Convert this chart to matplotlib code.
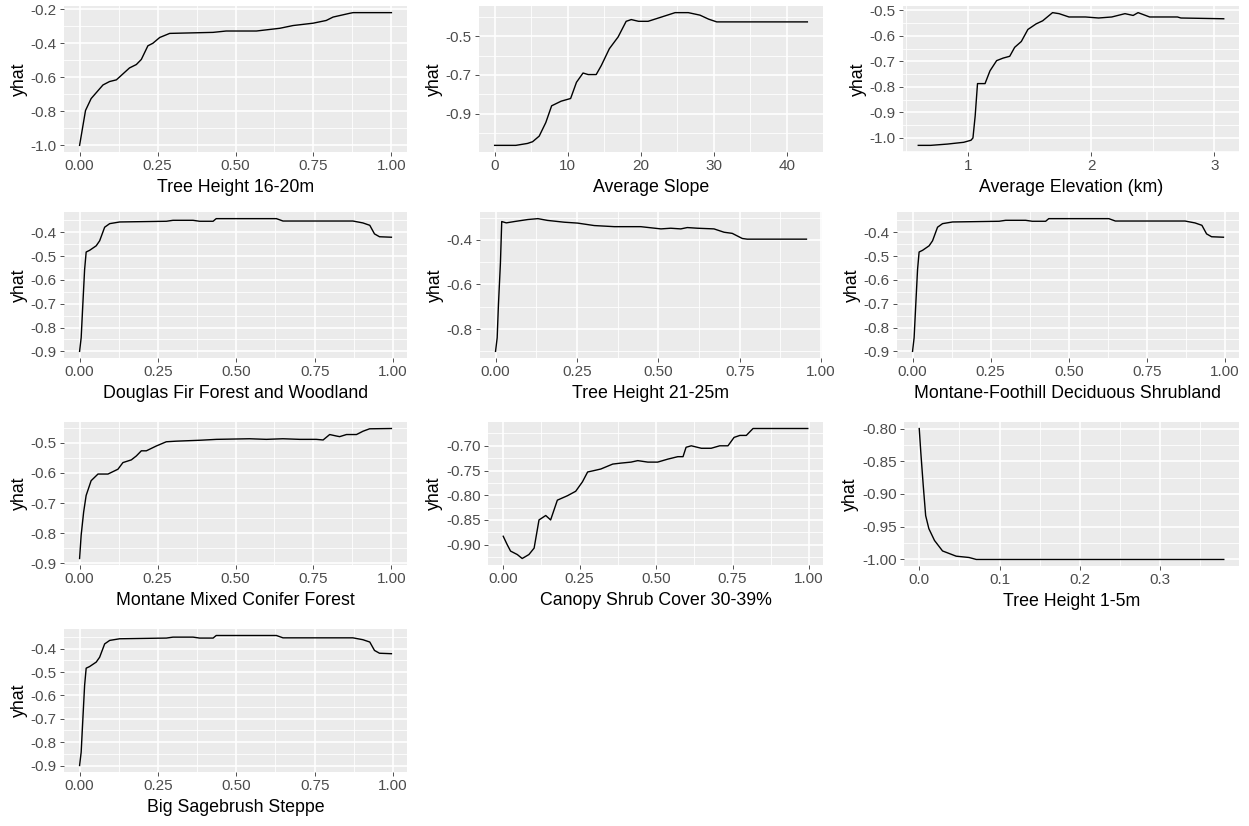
import numpy as np
import matplotlib.pyplot as plt

plt.rcParams["font.family"] = ["Liberation Sans", "DejaVu Sans"]
plt.rcParams["axes.unicode_minus"] = False

# Partial dependence curves (x value, yhat)
th16_x = [0, 0.019, 0.037, 0.075, 0.096, 0.118, 0.16, 0.182, 0.198, 0.219, 0.235,
          0.257, 0.289, 0.428, 0.47, 0.567, 0.642, 0.684, 0.749, 0.791, 0.813,
          0.866, 0.877, 1.0]
th16_y = [-1.0, -0.795, -0.725, -0.645, -0.625, -0.615, -0.545, -0.525, -0.495,
          -0.415, -0.40, -0.366, -0.342, -0.336, -0.328, -0.328, -0.312, -0.296,
          -0.282, -0.266, -0.246, -0.224, -0.22, -0.22]

slope_x = [0, 2.9, 4.5, 5.2, 6.1, 7.0, 7.8, 9.1, 10.4, 11.2, 12.1, 12.8, 13.9,
           14.6, 15.7, 16.9, 18.0, 18.7, 19.7, 21.0, 22.9, 24.7, 26.5, 28.1,
           29.3, 30.4, 42.8]
slope_y = [-1.065, -1.065, -1.055, -1.046, -1.017, -0.947, -0.86, -0.836,
           -0.822, -0.738, -0.69, -0.698, -0.698, -0.651, -0.564, -0.503,
           -0.422, -0.413, -0.422, -0.422, -0.399, -0.377, -0.377, -0.39,
           -0.411, -0.425, -0.425]

elev_x = [0.60, 0.70, 0.835, 0.968, 1.027, 1.043, 1.061, 1.08, 1.141, 1.181,
          1.235, 1.288, 1.341, 1.381, 1.435, 1.488, 1.555, 1.608, 1.688, 1.741,
          1.821, 1.955, 2.061, 2.168, 2.275, 2.341, 2.381, 2.475, 2.595, 2.70,
          2.728, 3.075]
elev_y = [-1.029, -1.029, -1.024, -1.017, -1.009, -1.0, -0.914, -0.787, -0.787,
          -0.737, -0.697, -0.687, -0.68, -0.645, -0.622, -0.575, -0.553, -0.541,
          -0.509, -0.513, -0.526, -0.526, -0.53, -0.526, -0.513, -0.52, -0.509,
          -0.526, -0.526, -0.526, -0.53, -0.533]

# Douglas fir, montane-foothill shrubland and sagebrush steppe share one shape
habitat_x = [0, 0.005, 0.011, 0.016, 0.021, 0.032, 0.053, 0.064, 0.08, 0.096,
             0.128, 0.277, 0.298, 0.362, 0.383, 0.426, 0.436, 0.628, 0.649,
             0.872, 0.904, 0.926, 0.941, 0.957, 0.995]
habitat_y = [-0.9, -0.843, -0.686, -0.557, -0.483, -0.476, -0.457, -0.436,
             -0.379, -0.364, -0.357, -0.354, -0.35, -0.35, -0.354, -0.354,
             -0.343, -0.343, -0.353, -0.353, -0.361, -0.371, -0.407, -0.419,
             -0.421]

th21_x = [0, 0.005, 0.009, 0.015, 0.019, 0.033, 0.058, 0.099, 0.13, 0.16, 0.211,
          0.252, 0.303, 0.365, 0.446, 0.508, 0.538, 0.569, 0.589, 0.62, 0.671,
          0.702, 0.727, 0.758, 0.773, 0.955]
th21_y = [-0.9, -0.839, -0.687, -0.504, -0.318, -0.324, -0.318, -0.309, -0.305,
          -0.313, -0.321, -0.325, -0.336, -0.341, -0.341, -0.351, -0.348, -0.351,
          -0.345, -0.348, -0.351, -0.366, -0.371, -0.394, -0.397, -0.397]

conifer_x = [0, 0.005, 0.013, 0.021, 0.037, 0.059, 0.091, 0.123, 0.139, 0.166,
             0.182, 0.198, 0.214, 0.246, 0.278, 0.31, 0.385, 0.439, 0.545, 0.599,
             0.652, 0.706, 0.759, 0.781, 0.802, 0.824, 0.834, 0.856, 0.888,
             0.909, 0.93, 1.0]
conifer_y = [-0.884, -0.807, -0.73, -0.675, -0.626, -0.604, -0.604, -0.588,
             -0.566, -0.557, -0.544, -0.527, -0.527, -0.511, -0.497, -0.495,
             -0.492, -0.489, -0.487, -0.489, -0.487, -0.489, -0.489, -0.491,
             -0.473, -0.478, -0.48, -0.473, -0.473, -0.462, -0.454, -0.453]

shrub_x = [0, 0.013, 0.024, 0.046, 0.062, 0.084, 0.101, 0.117, 0.139, 0.155,
           0.177, 0.21, 0.237, 0.259, 0.276, 0.298, 0.319, 0.358, 0.385, 0.418,
           0.44, 0.473, 0.505, 0.538, 0.571, 0.588, 0.598, 0.615, 0.648, 0.68,
           0.708, 0.735, 0.755, 0.774, 0.795, 0.817, 0.996]
shrub_y = [-0.883, -0.9, -0.913, -0.92, -0.928, -0.92, -0.907, -0.85, -0.841,
           -0.85, -0.81, -0.801, -0.792, -0.773, -0.753, -0.75, -0.747, -0.737,
           -0.735, -0.733, -0.73, -0.733, -0.733, -0.727, -0.722, -0.722, -0.703,
           -0.70, -0.705, -0.705, -0.70, -0.70, -0.683, -0.679, -0.679, -0.665,
           -0.665]

th1_x = [0, 0.002, 0.005, 0.008, 0.012, 0.019, 0.029, 0.046, 0.062, 0.071, 0.379]
th1_y = [-0.80, -0.837, -0.887, -0.933, -0.953, -0.971, -0.987, -0.995, -0.997,
         -1.0, -1.0]

# Axis titles
labels = ["Tree Height 16-20m", "Average Slope", "Average Elevation (km)",
          "Douglas Fir Forest and Woodland", "Tree Height 21-25m",
          "Montane-Foothill Deciduous Shrubland", "Montane Mixed Conifer Forest",
          "Canopy Shrub Cover 30-39%", "Tree Height 1-5m", "Big Sagebrush Steppe"]

# Tick breaks and labels per panel
frac_ticks = [0, 0.25, 0.5, 0.75, 1.0]
frac_labels = ["0.00", "0.25", "0.50", "0.75", "1.00"]
slope_ticks = [0, 10, 20, 30, 40]
elev_ticks = [1, 2, 3]
th1_ticks = [0.0, 0.1, 0.2, 0.3]
th1_tick_labels = ["0.0", "0.1", "0.2", "0.3"]

series = [
    (th16_x, th16_y, frac_ticks, frac_labels,
     [-1.0, -0.8, -0.6, -0.4, -0.2], "%.1f"),
    (slope_x, slope_y, slope_ticks, [str(t) for t in slope_ticks],
     [-0.9, -0.7, -0.5], "%.1f"),
    (elev_x, elev_y, elev_ticks, [str(t) for t in elev_ticks],
     [-1.0, -0.9, -0.8, -0.7, -0.6, -0.5], "%.1f"),
    (habitat_x, habitat_y, frac_ticks, frac_labels,
     [-0.9, -0.8, -0.7, -0.6, -0.5, -0.4], "%.1f"),
    (th21_x, th21_y, frac_ticks, frac_labels,
     [-0.8, -0.6, -0.4], "%.1f"),
    (habitat_x, habitat_y, frac_ticks, frac_labels,
     [-0.9, -0.8, -0.7, -0.6, -0.5, -0.4], "%.1f"),
    (conifer_x, conifer_y, frac_ticks, frac_labels,
     [-0.9, -0.8, -0.7, -0.6, -0.5], "%.1f"),
    (shrub_x, shrub_y, frac_ticks, frac_labels,
     [-0.90, -0.85, -0.80, -0.75, -0.70], "%.2f"),
    (th1_x, th1_y, th1_ticks, th1_tick_labels,
     [-1.00, -0.95, -0.90, -0.85, -0.80], "%.2f"),
    (habitat_x, habitat_y, frac_ticks, frac_labels,
     [-0.9, -0.8, -0.7, -0.6, -0.5, -0.4], "%.1f"),
]

# Panel boxes in pixels: left, top, right, bottom
W, H = 1249, 826
boxes = [
    (64, 6, 407, 152), (479, 6, 823, 152), (903, 6, 1239, 152),
    (64, 212, 407, 358), (480, 212, 822, 358), (897, 212, 1239, 358),
    (64, 422, 407, 565), (488, 422, 823, 565), (904, 422, 1239, 566),
    (64, 629, 407, 772),
]

fig = plt.figure(figsize=(W / 100, H / 100), dpi=100)


def minor_breaks(ticks):
    step = ticks[1] - ticks[0]
    return np.arange(ticks[0] - step / 2, ticks[-1] + step, step)


for (x, y, xt, xtl, yt, yfmt), label, (l, t, r, b) in zip(series, labels, boxes):
    ax = fig.add_axes([l / W, 1 - b / H, (r - l) / W, (b - t) / H])
    ax.set_facecolor("#EBEBEB")
    for s in ax.spines.values():
        s.set_visible(False)

    ax.plot(x, y, color="black", lw=1.0, zorder=3)

    ax.set_xticks(xt)
    ax.set_xticklabels(xtl)
    ax.set_yticks(yt)
    ax.set_yticklabels([yfmt % v for v in yt])
    ax.set_xticks(minor_breaks(xt), minor=True)
    ax.set_yticks(minor_breaks(yt), minor=True)

    # 5% padding around the data range
    xr = max(x) - min(x)
    yr = max(y) - min(y)
    ax.set_xlim(min(x) - 0.05 * xr, max(x) + 0.05 * xr)
    ax.set_ylim(min(y) - 0.05 * yr, max(y) + 0.05 * yr)

    ax.grid(which="major", color="white", lw=1.2)
    ax.grid(which="minor", color="white", lw=0.6)
    ax.set_axisbelow(True)
    ax.tick_params(which="major", length=2.75, width=0.6, color="#333333",
                   labelsize=11, labelcolor="#4D4D4D", pad=2.5)
    ax.tick_params(which="minor", length=0)

    ax.set_xlabel(label, fontsize=12.8, labelpad=4)
    ax.set_ylabel("yhat", fontsize=12.8, labelpad=2)

plt.savefig("out.png", dpi=100)
